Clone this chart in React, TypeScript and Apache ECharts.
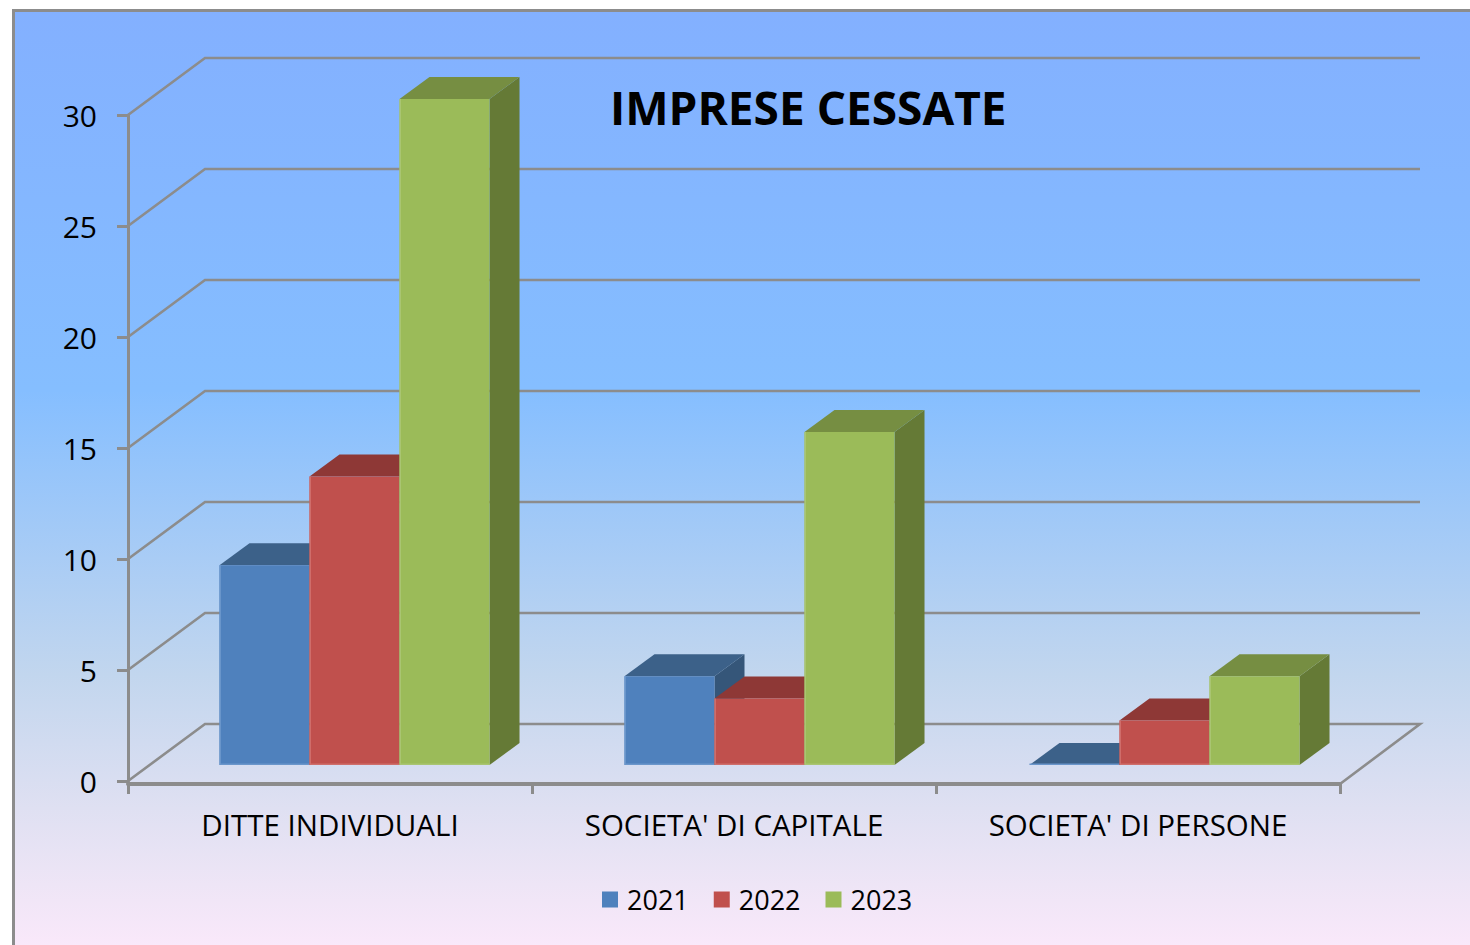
import React, { useEffect, useRef } from "react";
import * as echarts from "echarts";

const categories = ["DITTE INDIVIDUALI", "SOCIETA' DI CAPITALE", "SOCIETA' DI PERSONE"];
const years = ["2021", "2022", "2023"];
const values2021 = [9, 4, 0];
const values2022 = [13, 3, 2];
const values2023 = [30, 15, 4];
const wallTicks = [0, 5, 10, 15, 20, 25, 30];
const frontColors = ["#4F81BD", "#C0504D", "#9BBB59"];
const topColors = ["#3C6189", "#8E3836", "#768E42"];
const sideColors = ["#355679", "#7E3230", "#657A36"];
const edgeColors = ["#6A96CB", "#CF6E6B", "#A9C572"];

const FONT = "'Open Sans'";
const AXIS = "#8C8C8C";

function wallRender(params: any, api: any) {
  const cs = params.coordSys;
  const y = api.coord([0, api.value(1)])[1];
  const left = cs.x;
  const right = cs.x + cs.width;
  const pts: number[][] = [[left, y], [left + 77, y - 57], [right + 80, y - 57]];
  if (api.value(1) === 0) pts.push([right, y + 3]);
  return {
    type: "polyline",
    shape: { points: pts },
    style: { stroke: AXIS, lineWidth: 2.6, fill: "none" },
  };
}

function barRender(seriesIndex: number) {
  return (params: any, api: any) => {
    const cat = api.value(0);
    const p = api.coord([cat, api.value(1)]);
    const b = api.coord([cat, 0]);
    const w = api.size([1, 0])[0] * 0.2228;
    const x0 = p[0] + 24.5 + cat - 1.5 * w + seriesIndex * w;
    const x1 = x0 + w;
    const top = p[1] - 16;
    const base = b[1] - 16;
    const dx = 30;
    const dy = 22;
    return {
      type: "group",
      children: [
        {
          type: "polygon",
          shape: { points: [[x1, top], [x1 + dx, top - dy], [x1 + dx, base - dy], [x1, base]] },
          style: { fill: sideColors[seriesIndex] },
        },
        {
          type: "polygon",
          shape: { points: [[x0, top], [x0 + dx, top - dy], [x1 + dx, top - dy], [x1, top]] },
          style: { fill: topColors[seriesIndex] },
        },
        {
          type: "rect",
          shape: { x: x0, y: top, width: w, height: base - top },
          style: { fill: frontColors[seriesIndex] },
        },
        {
          type: "polyline",
          shape: { points: [[x0 + 0.75, top], [x0 + 0.75, base - 0.75], [x1, base - 0.75]] },
          style: { stroke: edgeColors[seriesIndex], lineWidth: 1.5, fill: "none" },
        },
      ],
    };
  };
}

export default function App() {
  const ref = useRef<HTMLDivElement>(null);
  useEffect(() => {
    const chart = echarts.init(ref.current!, undefined, { renderer: "svg" });
    const seriesValues = [values2021, values2022, values2023];
    chart.setOption({
      animation: false,
      title: {
        text: "IMPRESE CESSATE",
        left: 605,
        top: 79,
        textStyle: { fontFamily: FONT, fontWeight: "bold", fontSize: 46, color: "#000" },
      },
      legend: {
        data: years,
        left: 597,
        top: 881,
        icon: "rect",
        itemWidth: 16,
        itemHeight: 16,
        itemGap: 25,
        textStyle: { fontFamily: FONT, fontSize: 27, color: "#000", padding: [0, 0, 0, 4] },
      },
      grid: { left: 128, right: 130, top: 115, bottom: 164 },
      xAxis: {
        type: "category",
        data: categories,
        offset: 3,
        axisLine: { onZero: false, lineStyle: { color: AXIS, width: 4 } },
        axisTick: { show: true, length: 10, lineStyle: { color: AXIS, width: 3 }, alignWithLabel: false },
        axisLabel: { fontFamily: FONT, fontSize: 29.5, color: "#000", margin: 25 },
        splitLine: { show: false },
      },
      yAxis: {
        type: "value",
        min: 0,
        max: 30,
        interval: 5,
        axisLine: { show: true, lineStyle: { color: AXIS, width: 3 } },
        axisTick: { show: true, length: 11, lineStyle: { color: AXIS, width: 3 } },
        axisLabel: { fontFamily: FONT, fontSize: 30, color: "#000", margin: 31 },
        splitLine: { show: false },
      },
      graphic: [
        {
          type: "rect",
          z: -10,
          silent: true,
          shape: { x: 13.5, y: 10.5, width: 1470, height: 950 },
          style: {
            stroke: AXIS,
            lineWidth: 3,
            fill: new echarts.graphic.LinearGradient(0, 0, 0, 1, [
              { offset: 0, color: "#83B0FF" },
              { offset: 0.4, color: "#85BEFF" },
              { offset: 0.7, color: "#C2D6EE" },
              { offset: 0.84, color: "#DFE0F2" },
              { offset: 0.92, color: "#EEE5F6" },
              { offset: 1, color: "#FCE9FB" },
            ]),
          },
        },
      ],
      series: [
        {
          type: "custom",
          name: "walls",
          silent: true,
          clip: false,
          z: 1,
          encode: { x: 0, y: 1 },
          data: wallTicks.map((v) => [0, v]),
          renderItem: wallRender,
        },
        ...years.map((name, i) => ({
          type: "custom",
          name,
          clip: false,
          z: 2 + i,
          itemStyle: { color: frontColors[i] },
          encode: { x: 0, y: 1 },
          data: seriesValues[i].map((v, c) => [c, v]),
          renderItem: barRender(i),
        })),
      ],
    });
    return () => chart.dispose();
  }, []);
  return <div ref={ref} style={{ position: "absolute", left: 0, top: 0, width: 1470, height: 945, overflow: "hidden" }} />;
}
